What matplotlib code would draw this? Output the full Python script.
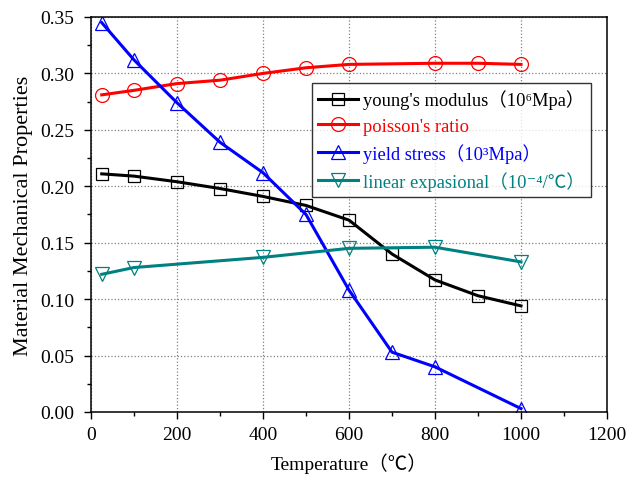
import numpy as np
import matplotlib
matplotlib.use('Agg')
import matplotlib.pyplot as plt
from matplotlib.ticker import MultipleLocator

plt.rcParams['font.family'] = ['Liberation Serif', 'Noto Sans CJK SC', 'DejaVu Sans']

# data
t_young = [25, 100, 200, 300, 400, 500, 600, 700, 800, 900, 1000]
young = [0.211, 0.209, 0.204, 0.198, 0.191, 0.183, 0.170, 0.140, 0.117, 0.103, 0.094]

t_poisson = [25, 100, 200, 300, 400, 500, 600, 800, 900, 1000]
poisson = [0.281, 0.285, 0.291, 0.294, 0.300, 0.305, 0.308, 0.309, 0.309, 0.308]

t_yield = [25, 100, 200, 300, 400, 500, 600, 700, 800, 1000]
yield_stress = [0.345, 0.312, 0.274, 0.239, 0.212, 0.175, 0.108, 0.053, 0.040, 0.003]

t_expan = [25, 100, 400, 600, 800, 1000]
expan = [0.122, 0.128, 0.137, 0.145, 0.146, 0.133]

labels = ["young's modulus（10⁶Mpa）", "poisson's ratio",
          "yield stress（10³Mpa）", "linear expasional（10⁻⁴/℃）"]
colors = ['black', 'red', 'blue', '#008080']

fig = plt.figure(figsize=(6.27, 4.81), dpi=100)
ax = fig.add_axes([0.1451, 0.1414, 0.8230, 0.8212])

ms = 10
lw = 2.2
ax.plot(t_young, young, color=colors[0], lw=lw, marker='s', ms=ms * 0.85,
        mfc='none', mec=colors[0], mew=0.9, label=labels[0])
ax.plot(t_poisson, poisson, color=colors[1], lw=lw, marker='o', ms=ms,
        mfc='none', mec=colors[1], mew=0.9, label=labels[1])
ax.plot(t_yield, yield_stress, color=colors[2], lw=lw, marker='^', ms=ms,
        mfc='none', mec=colors[2], mew=0.9, label=labels[2])
ax.plot(t_expan, expan, color=colors[3], lw=lw, marker='v', ms=ms,
        mfc='none', mec=colors[3], mew=0.9, label=labels[3])

ax.set_xlim(0, 1200)
ax.set_ylim(0, 0.35)
ax.xaxis.set_major_locator(MultipleLocator(200))
ax.xaxis.set_minor_locator(MultipleLocator(100))
ax.yaxis.set_major_locator(MultipleLocator(0.05))
ax.yaxis.set_minor_locator(MultipleLocator(0.025))
ax.yaxis.set_major_formatter(matplotlib.ticker.FormatStrFormatter('%.2f'))
ax.tick_params(which='major', direction='out', length=5, width=1, labelsize=14)
ax.tick_params(which='minor', direction='out', length=3, width=1)
ax.tick_params(axis='y', which='major', pad=7)
ax.tick_params(axis='x', which='major', pad=5)
ax.grid(True, which='major', linestyle=':', color='gray', lw=0.9)
for s in ax.spines.values():
    s.set_linewidth(1.1)

ax.set_xlabel('Temperature（℃）', fontsize=14, labelpad=7)
ax.set_ylabel('Material Mechanical Properties', fontsize=16, labelpad=5)

leg = ax.legend(loc='upper right', bbox_to_anchor=(0.969, 0.833), fontsize=13.3,
                frameon=True, fancybox=False, edgecolor='black',
                handlelength=2.15, labelspacing=0.45, borderpad=0.35,
                handletextpad=0.25, borderaxespad=0)
leg.get_frame().set_linewidth(1.0)
for txt, c in zip(leg.get_texts(), colors):
    txt.set_color(c)

fig.savefig('out.png', dpi=100)
